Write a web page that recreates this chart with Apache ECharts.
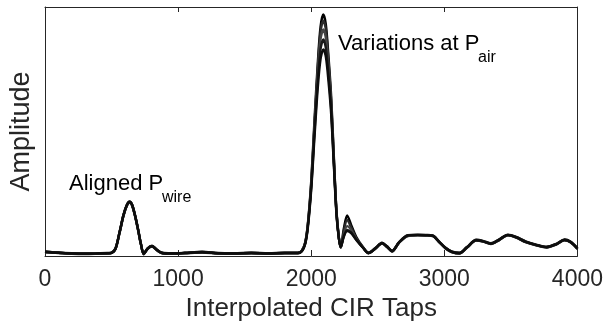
<!DOCTYPE html>
<html>
<head>
<meta charset="utf-8">
<script src="https://cdn.jsdelivr.net/npm/echarts@6/dist/echarts.min.js"></script>
<style>
  html, body { margin: 0; padding: 0; background: #fff; }
  #cirChart { width: 606px; height: 328px; }
</style>
</head>
<body>
<div id="cirChart"></div>
<script>
// interpolated CIR tap index (shared by all traces)
const taps = [0, 100, 200, 300, 400, 470, 500, 530, 560, 590,
  615, 635, 655, 680, 700, 720, 742, 770, 804, 840,
  880, 950, 1050, 1180, 1300, 1420, 1550, 1680, 1800, 1900,
  1930, 1955, 1975, 2000, 2025, 2050, 2070, 2091, 2110, 2130,
  2150, 2170, 2190, 2208, 2222, 2245, 2270, 2300, 2340, 2390,
  2430, 2480, 2532, 2570, 2607, 2660, 2726, 2800, 2860, 2913,
  2960, 3010, 3054, 3114, 3170, 3240, 3290, 3350, 3410, 3478,
  3540, 3610, 3690, 3769, 3840, 3903, 3950, 4000]

// amplitude traces (normalised to the axis height)
const traceA = [0.018, 0.014, 0.010, 0.009, 0.010, 0.011, 0.013, 0.030, 0.095, 0.165,
  0.205, 0.218, 0.205, 0.155, 0.105, 0.050, 0.008, 0.030, 0.040, 0.025,
  0.012, 0.010, 0.012, 0.016, 0.011, 0.010, 0.012, 0.010, 0.012, 0.012,
  0.022, 0.055, 0.130, 0.300, 0.550, 0.780, 0.920, 0.970, 0.930, 0.800,
  0.640, 0.400, 0.180, 0.075, 0.035, 0.110, 0.163, 0.125, 0.075, 0.035,
  0.012, 0.030, 0.052, 0.038, 0.020, 0.055, 0.083, 0.085, 0.084, 0.082,
  0.058, 0.032, 0.018, 0.012, 0.035, 0.064, 0.060, 0.050, 0.065, 0.085,
  0.076, 0.058, 0.045, 0.036, 0.048, 0.065, 0.056, 0.030]
const traceB = [0.016, 0.012, 0.009, 0.008, 0.009, 0.010, 0.012, 0.028, 0.092, 0.162,
  0.202, 0.215, 0.202, 0.152, 0.102, 0.048, 0.007, 0.028, 0.038, 0.023,
  0.011, 0.009, 0.011, 0.014, 0.010, 0.009, 0.011, 0.009, 0.011, 0.011,
  0.020, 0.052, 0.125, 0.290, 0.530, 0.760, 0.900, 0.945, 0.910, 0.780,
  0.620, 0.390, 0.175, 0.072, 0.033, 0.100, 0.145, 0.115, 0.070, 0.033,
  0.011, 0.028, 0.050, 0.036, 0.018, 0.053, 0.080, 0.083, 0.082, 0.080,
  0.056, 0.030, 0.016, 0.010, 0.033, 0.062, 0.058, 0.048, 0.063, 0.083,
  0.074, 0.056, 0.043, 0.034, 0.046, 0.063, 0.054, 0.028]
const traceC = [0.015, 0.013, 0.010, 0.009, 0.010, 0.011, 0.013, 0.029, 0.093, 0.163,
  0.203, 0.216, 0.203, 0.153, 0.103, 0.049, 0.008, 0.029, 0.039, 0.024,
  0.012, 0.010, 0.012, 0.015, 0.011, 0.010, 0.012, 0.010, 0.012, 0.012,
  0.021, 0.053, 0.125, 0.285, 0.520, 0.740, 0.870, 0.910, 0.875, 0.760,
  0.610, 0.385, 0.175, 0.072, 0.035, 0.085, 0.120, 0.105, 0.068, 0.034,
  0.012, 0.029, 0.051, 0.037, 0.019, 0.054, 0.081, 0.084, 0.083, 0.081,
  0.057, 0.031, 0.017, 0.011, 0.034, 0.063, 0.059, 0.049, 0.064, 0.084,
  0.075, 0.057, 0.044, 0.035, 0.047, 0.064, 0.055, 0.029]
const traceD = [0.017, 0.013, 0.011, 0.010, 0.011, 0.012, 0.014, 0.031, 0.096, 0.166,
  0.206, 0.219, 0.206, 0.156, 0.106, 0.051, 0.009, 0.031, 0.041, 0.026,
  0.013, 0.011, 0.013, 0.017, 0.012, 0.011, 0.013, 0.011, 0.013, 0.013,
  0.020, 0.050, 0.120, 0.275, 0.500, 0.710, 0.830, 0.870, 0.835, 0.730,
  0.590, 0.375, 0.170, 0.070, 0.036, 0.080, 0.105, 0.095, 0.065, 0.033,
  0.013, 0.031, 0.053, 0.039, 0.021, 0.056, 0.084, 0.086, 0.085, 0.083,
  0.059, 0.033, 0.019, 0.013, 0.036, 0.065, 0.061, 0.051, 0.066, 0.086,
  0.077, 0.059, 0.046, 0.037, 0.049, 0.066, 0.057, 0.031]
const traceE = [0.016, 0.013, 0.010, 0.009, 0.010, 0.011, 0.012, 0.029, 0.094, 0.164,
  0.204, 0.217, 0.204, 0.154, 0.104, 0.049, 0.008, 0.029, 0.039, 0.024,
  0.012, 0.010, 0.012, 0.015, 0.011, 0.010, 0.012, 0.010, 0.012, 0.012,
  0.019, 0.048, 0.115, 0.265, 0.480, 0.680, 0.790, 0.830, 0.800, 0.700,
  0.570, 0.365, 0.165, 0.070, 0.037, 0.078, 0.100, 0.092, 0.063, 0.032,
  0.012, 0.029, 0.051, 0.037, 0.019, 0.054, 0.082, 0.084, 0.083, 0.081,
  0.057, 0.031, 0.017, 0.011, 0.034, 0.063, 0.059, 0.049, 0.064, 0.084,
  0.075, 0.057, 0.044, 0.035, 0.047, 0.064, 0.055, 0.029]

const traces = [traceA, traceB, traceC, traceD, traceE]
const traceColors = ['#000000', '#2a2a2a', '#444444', '#1a1a1a', '#0d0d0d']
const xTicks = [0, 1000, 2000, 3000, 4000]

const FONT = 'Liberation Sans, Arial, sans-serif'
const AXIS_COLOR = '#262626'

function initCirChart () {
  const myChart = echarts.init(document.getElementById('cirChart'), null, { renderer: 'canvas' })
  const series = traces.map((tr, i) => ({
    type: 'line',
    xAxisIndex: 0,
    yAxisIndex: 0,
    data: taps.map((t, k) => [t, tr[k]]),
    showSymbol: false,
    smooth: 0.3,
    lineStyle: { color: traceColors[i], width: 2.4 },
    silent: true,
    animation: false
  }))
  const frameLine = { show: true, onZero: false, lineStyle: { color: AXIS_COLOR, width: 1 } }
  const option = {
    backgroundColor: '#fff',
    animation: false,
    grid: { left: 42, right: 27, top: 7, bottom: 72, containLabel: false },
    xAxis: [
      {
        type: 'value',
        min: 0,
        max: 4000,
        interval: 1000,
        position: 'bottom',
        name: 'Interpolated CIR Taps',
        nameLocation: 'middle',
        nameGap: 40,
        nameTextStyle: { fontFamily: FONT, fontSize: 26, color: AXIS_COLOR },
        axisLine: frameLine,
        axisTick: { show: true, inside: true, length: 6, lineStyle: { color: AXIS_COLOR } },
        axisLabel: {
          fontFamily: FONT, fontSize: 23, color: AXIS_COLOR, margin: 12,
          formatter: v => (xTicks.includes(v) ? String(v) : '')
        },
        splitLine: { show: false }
      },
      {
        type: 'value',
        min: 0,
        max: 4000,
        interval: 1000,
        position: 'top',
        axisLine: frameLine,
        axisTick: { show: true, inside: true, length: 5, lineStyle: { color: AXIS_COLOR } },
        axisLabel: { show: false },
        splitLine: { show: false }
      }
    ],
    yAxis: [
      {
        type: 'value',
        min: 0,
        max: 1,
        position: 'left',
        name: 'Amplitude',
        nameLocation: 'middle',
        nameGap: 10,
        nameTextStyle: { fontFamily: FONT, fontSize: 27, color: AXIS_COLOR },
        axisLine: frameLine,
        axisTick: { show: false },
        axisLabel: { show: false },
        splitLine: { show: false }
      },
      {
        type: 'value',
        min: 0,
        max: 1,
        position: 'right',
        axisLine: frameLine,
        axisTick: { show: false },
        axisLabel: { show: false },
        splitLine: { show: false }
      }
    ],
    graphic: [
      { type: 'text', left: 69, top: 173, style: { text: 'Aligned P', font: '22px ' + FONT, fill: '#000' } },
      { type: 'text', left: 162, top: 190, style: { text: 'wire', font: '16px ' + FONT, fill: '#000' } },
      { type: 'text', left: 338, top: 33, style: { text: 'Variations at P', font: '22px ' + FONT, fill: '#000' } },
      { type: 'text', left: 478, top: 50, style: { text: 'air', font: '16px ' + FONT, fill: '#000' } }
    ],
    series: series
  }
  myChart.setOption(option, true)
}

initCirChart()
</script>
</body>
</html>
